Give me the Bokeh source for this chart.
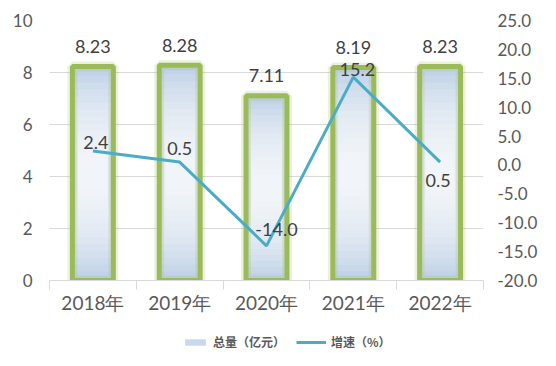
from bokeh.plotting import figure
from bokeh.models import (Range1d, LinearAxis, FixedTicker, NumeralTickFormatter,
                          ColumnDataSource, Legend, LegendItem, LabelSet)
from bokeh.layouts import column
from bokeh.core.properties import value
from bokeh.embed import file_html
from bokeh.resources import INLINE

# ---- data ----
categories = ["2018年", "2019年", "2020年", "2021年", "2022年"]
totals = [8.23, 8.28, 7.11, 8.19, 8.23]          # 总量（亿元）
growth = [2.4, 0.5, -14.0, 15.2, 0.5]            # 增速（%）
left_ticks = [0, 2, 4, 6, 8, 10]
right_ticks = [-20, -15, -10, -5, 0, 5, 10, 15, 20, 25]
series_names = ["总量（亿元）", "增速（%）"]

# ---- styles ----
FONT = "Lato"
TICK_COLOR = "#595959"
LABEL_COLOR = "#404040"
GRID_COLOR = "#D9D9D9"
GREEN = "#9BBB59"
BLUE_BASE = "#B9CDE5"
LINE_COLOR = "#4BACC6"
BAR_W = 0.472
label_dx = [3, 0, 10, 4, -2]
label_dy = [9, 14, 16, 8, -18]
legend_x = [133, 247]

n = len(categories)
xs = [i + 0.5 for i in range(n)]

p = figure(width=540, height=332, x_range=Range1d(0, n),
           y_range=Range1d(left_ticks[0], left_ticks[-1]),
           output_backend="svg", toolbar_location=None,
           min_border_left=49, min_border_right=57,
           min_border_top=20, min_border_bottom=52)
p.outline_line_color = None
p.background_fill_color = "white"
p.border_fill_color = "white"
p.extra_y_ranges = {"g": Range1d(right_ticks[0], right_ticks[-1])}

src = ColumnDataSource(dict(
    x=xs, top=totals, g=growth,
    lab=[f"{v:.2f}" for v in totals],
    glab=[f"{v:.1f}" for v in growth],
    dx=label_dx, dy=label_dy,
    base=[-0.3] * n,
))

# bars: base fill
p.vbar(x="x", top="top", bottom="base", width=BAR_W, source=src,
       fill_color=BLUE_BASE, line_color=None)
# white glow toward the middle of each bar (soft gradient)
steps = 14
for k in range(steps):
    f = 0.98 - k * (0.9 / steps)
    s = ColumnDataSource(dict(x=xs,
                              b=[v * (0.5 - f / 2) for v in totals],
                              t=[v * (0.5 + f / 2) for v in totals]))
    p.vbar(x="x", top="t", bottom="b", width=BAR_W * (0.95 - 0.02 * k), source=s,
           fill_color="white", fill_alpha=0.12, line_color=None)
# green glowing border
p.vbar(x="x", top="top", bottom="base", width=BAR_W, source=src,
       fill_color=None, line_color=GREEN, line_width=10, line_alpha=0.2)
p.vbar(x="x", top="top", bottom="base", width=BAR_W, source=src,
       fill_color=None, line_color=GREEN, line_width=5)

# line
line = p.line(x="x", y="g", source=src, y_range_name="g",
              line_color=LINE_COLOR, line_width=3)

# labels
bar_labels = LabelSet(x="x", y="top", text="lab", source=src,
                      y_offset=20, text_align="center", text_baseline="middle",
                      text_font=value(FONT), text_font_size=value("18px"),
                      text_color=LABEL_COLOR)
p.add_layout(bar_labels)
g_labels = LabelSet(x="x", y="g", text="glab", source=src, y_range_name="g",
                    x_offset="dx", y_offset="dy",
                    text_align="center", text_baseline="middle",
                    text_font=value(FONT), text_font_size=value("18px"),
                    text_color=LABEL_COLOR)
p.add_layout(g_labels)

# axes
xa = p.xaxis[0]
xa.ticker = FixedTicker(ticks=xs, minor_ticks=list(range(n + 1)))
xa.major_label_overrides = {x: c for x, c in zip(xs, categories)}
xa.major_tick_line_color = None
xa.minor_tick_line_color = GRID_COLOR
xa.minor_tick_in = 0
xa.minor_tick_out = 9
xa.axis_line_color = GRID_COLOR
xa.major_label_standoff = 1
xa.major_label_text_font = FONT
xa.major_label_text_font_size = "19px"
xa.major_label_text_color = TICK_COLOR

ya = p.yaxis[0]
ya.ticker = FixedTicker(ticks=left_ticks)
ya.axis_line_color = None
ya.major_tick_line_color = None
ya.minor_tick_line_color = None
ya.major_label_standoff = 11
ya.major_label_text_font = FONT
ya.major_label_text_font_size = "17px"
ya.major_label_text_color = TICK_COLOR

ra = LinearAxis(y_range_name="g", ticker=FixedTicker(ticks=right_ticks),
                formatter=NumeralTickFormatter(format="0.0"))
ra.axis_line_color = None
ra.major_tick_line_color = None
ra.minor_tick_line_color = None
ra.major_label_standoff = 8
ra.major_label_text_font = FONT
ra.major_label_text_font_size = "17px"
ra.major_label_text_color = TICK_COLOR
p.add_layout(ra, "right")

p.xgrid.grid_line_color = None
p.ygrid.ticker = FixedTicker(ticks=left_ticks)
p.ygrid.grid_line_color = GRID_COLOR

# ---- legend strip ----
p2 = figure(width=540, height=18, x_range=Range1d(0, 1), y_range=Range1d(0, 1),
            output_backend="svg", toolbar_location=None, min_border=0)
p2.axis.visible = False
p2.grid.visible = False
p2.outline_line_color = None
p2.border_fill_color = "white"
proxy_bar = p2.vbar(x=[0.0], top=[0.0], width=0.0, fill_color="#C9D8EC",
                    line_color=None)
proxy_line = p2.line(x=[0.0], y=[0.0], line_color=LINE_COLOR, line_width=3)
glyph_w = [26, 30]
for name, rend, lx, gw in zip(series_names, [proxy_bar, proxy_line], legend_x, glyph_w):
    lg = Legend(items=[LegendItem(label=name, renderers=[rend])],
                orientation="horizontal", location=(lx, 0),
                label_text_font="Noto Sans CJK SC",
                label_text_font_size="12px", label_text_font_style="bold",
                label_text_color=TICK_COLOR, glyph_width=gw, glyph_height=8,
                label_standoff=5, spacing=0, margin=0, padding=2,
                border_line_color=None, background_fill_alpha=0)
    p2.add_layout(lg)

layout = column(p, p2, spacing=0)
open("out.html", "w").write(file_html(layout, INLINE))
